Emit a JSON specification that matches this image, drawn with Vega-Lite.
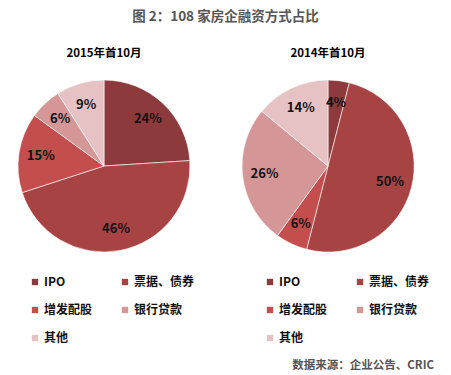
{
  "$schema": "https://vega.github.io/schema/vega-lite/v6.json",
  "background": "white",
  "padding": {"left": 16, "top": 9, "right": 10, "bottom": 5},
  "config": {"view": {"stroke": null}, "font": "Noto Sans CJK SC", "concat": {"spacing": 45}},
  "title": {"text": "图 2：108 家房企融资方式占比", "fontSize": 13.5, "fontWeight": "bold", "color": "#555555", "anchor": "middle", "offset": 25, "font": "Noto Sans CJK SC"},
  "datasets": {
    "d2015": [
      {"type": "IPO", "idx": 1, "pct": 0.24},
      {"type": "票据、债券", "idx": 2, "pct": 0.46},
      {"type": "增发配股", "idx": 3, "pct": 0.15},
      {"type": "银行贷款", "idx": 4, "pct": 0.06},
      {"type": "其他", "idx": 5, "pct": 0.09}
    ],
    "d2014": [
      {"type": "IPO", "idx": 1, "pct": 0.04},
      {"type": "票据、债券", "idx": 2, "pct": 0.50},
      {"type": "增发配股", "idx": 3, "pct": 0.06},
      {"type": "银行贷款", "idx": 4, "pct": 0.26},
      {"type": "其他", "idx": 5, "pct": 0.14}
    ]
  },
  "vconcat": [
    {
      "title": {"text": "数据来源：企业公告、CRIC", "orient": "bottom", "anchor": "end", "fontSize": 11.5, "fontWeight": "bold", "color": "#555555", "offset": 16, "dx": 4, "font": "Noto Sans CJK SC"},
      "resolve": {"scale": {"color": "independent"}, "legend": {"color": "independent"}},
      "hconcat": [
        {
          "title": {"text": "2015年首10月", "fontSize": 11.5, "fontWeight": "bold", "color": "#000000", "offset": 19, "anchor": "middle"},
          "width": 172, "height": 172,
          "data": {"name": "d2015"},
          "encoding": {
            "theta": {"field": "pct", "type": "quantitative", "stack": true},
            "order": {"field": "idx", "type": "quantitative"},
            "color": {"field": "type", "type": "nominal",
              "scale": {"domain": ["IPO", "票据、债券", "增发配股", "银行贷款", "其他"], "range": ["#8C3A3C", "#A84344", "#C44E4E", "#D49697", "#E6C2C4"]},
              "legend": {"title": null, "orient": "none", "direction": "horizontal", "legendX": 11, "legendY": 196, "columns": 2, "symbolType": "square", "symbolSize": 40, "symbolStrokeWidth": 0, "labelFontSize": 12, "labelFontWeight": "bold", "labelColor": "#111111", "columnPadding": 26, "rowPadding": 16, "labelOffset": 3}
            }
          },
          "layer": [
            {"mark": {"type": "arc", "outerRadius": 86, "stroke": "#ffffff", "strokeWidth": 0.6}},
            {"mark": {"type": "text", "radius": 64, "fontSize": 13, "fontWeight": "bold"},
             "encoding": {"text": {"field": "pct", "type": "quantitative", "format": ".0%"}, "color": {"value": "#111111"}}}
          ]
        },
        {
          "title": {"text": "2014年首10月", "fontSize": 11.5, "fontWeight": "bold", "color": "#000000", "offset": 19, "anchor": "middle"},
          "width": 172, "height": 172,
          "data": {"name": "d2014"},
          "encoding": {
            "theta": {"field": "pct", "type": "quantitative", "stack": true},
            "order": {"field": "idx", "type": "quantitative"},
            "color": {"field": "type", "type": "nominal",
              "scale": {"domain": ["IPO", "票据、债券", "增发配股", "银行贷款", "其他"], "range": ["#8C3A3C", "#A84344", "#C44E4E", "#D49697", "#E6C2C4"]},
              "legend": {"title": null, "orient": "none", "direction": "horizontal", "legendX": 22, "legendY": 196, "columns": 2, "symbolType": "square", "symbolSize": 40, "symbolStrokeWidth": 0, "labelFontSize": 12, "labelFontWeight": "bold", "labelColor": "#111111", "columnPadding": 26, "rowPadding": 16, "labelOffset": 3}
            }
          },
          "layer": [
            {"mark": {"type": "arc", "outerRadius": 86, "stroke": "#ffffff", "strokeWidth": 0.6}},
            {"mark": {"type": "text", "radius": 64, "fontSize": 13, "fontWeight": "bold"},
             "encoding": {"text": {"field": "pct", "type": "quantitative", "format": ".0%"}, "color": {"value": "#111111"}}}
          ]
        }
      ]
    }
  ]
}
